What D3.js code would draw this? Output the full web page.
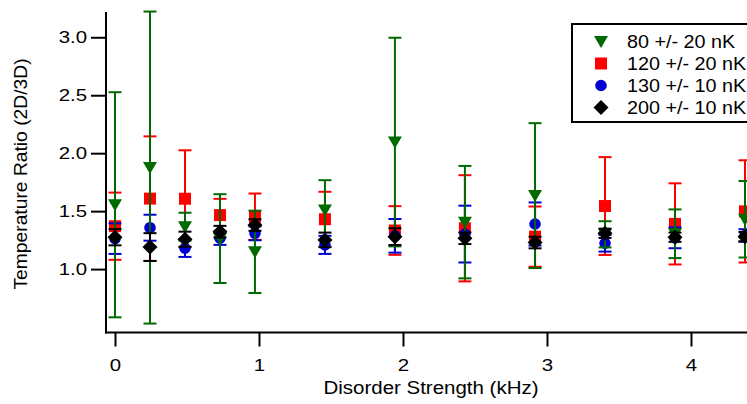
<!DOCTYPE html>
<html>
<head>
<meta charset="utf-8">
<script src="https://cdn.jsdelivr.net/npm/d3@7"></script>
<style>
  html, body { margin: 0; padding: 0; background: #fff; }
  svg { display: block; }
  text { font-family: "Liberation Sans", Arial, sans-serif; fill: #000; }
</style>
</head>
<body>
<svg id="chart" width="747" height="404"></svg>
<script>
// ---- data ----
const disorder = [0, 0.243, 0.486, 0.729, 0.972, 1.458, 1.944, 2.43, 2.917, 3.403, 3.889, 4.375];

const green80Val = [1.555, 1.876, 1.366, 1.263, 1.149, 1.51, 2.096, 1.405, 1.634, 1.30, 1.305, 1.43];
const green80Err = [0.971, 1.346, 0.12, 0.383, 0.355, 0.257, 0.9, 0.485, 0.625, 0.113, 0.21, 0.33];

const red120Val = [1.37, 1.608, 1.607, 1.466, 1.452, 1.43, 1.333, 1.352, 1.28, 1.544, 1.39, 1.498];
const red120Err = [0.29, 0.537, 0.418, 0.14, 0.2, 0.237, 0.21, 0.458, 0.26, 0.422, 0.35, 0.441];

const blue130Val = [1.263, 1.357, 1.18, 1.266, 1.309, 1.209, 1.287, 1.302, 1.389, 1.223, 1.27, 1.29];
const blue130Err = [0.132, 0.112, 0.075, 0.057, 0.06, 0.078, 0.145, 0.245, 0.186, 0.072, 0.09, 0.054];

const black200Val = [1.275, 1.19, 1.258, 1.323, 1.38, 1.252, 1.28, 1.266, 1.229, 1.309, 1.275, 1.28];
const black200Err = [0.07, 0.12, 0.065, 0.05, 0.05, 0.063, 0.072, 0.05, 0.05, 0.04, 0.04, 0.04];

const seriesLabels = ["80 +/- 20 nK", "120 +/- 20 nK", "130 +/- 10 nK", "200 +/- 10 nK"];
const xTicks = [0, 1, 2, 3, 4];
const yTicks = [1.0, 1.5, 2.0, 2.5, 3.0];
const xTitle = "Disorder Strength (kHz)";
const yTitle = "Temperature Ratio (2D/3D)";

(function () {
// ---- layout ----
const mLeft = 106, mRight = 747, mTop = 12, mBottom = 332.5;

const svg = d3.select("#chart");

const x = d3.scaleLinear().domain([-0.0625, 4.389]).range([mLeft, mRight]);
const y = d3.scaleLinear().domain([0.453, 3.218]).range([mBottom, mTop]);

const series = [
  { label: seriesLabels[0], vals: green80Val, errs: green80Err, color: "#006a00", shape: "tri" },
  { label: seriesLabels[1], vals: red120Val, errs: red120Err, color: "#ff0000", shape: "square" },
  { label: seriesLabels[2], vals: blue130Val, errs: blue130Err, color: "#0000d0", shape: "circle" },
  { label: seriesLabels[3], vals: black200Val, errs: black200Err, color: "#000000", shape: "diamond" }
];

// widen text horizontally (reference glyphs are wider than Arial)
function stretch(sel, f) {
  sel.each(function () {
    const L = this.getComputedTextLength();
    d3.select(this).attr("textLength", L * f).attr("lengthAdjust", "spacingAndGlyphs");
  });
}

function markerPath(shape) {
  switch (shape) {
    case "tri": return "M-7,-5.5L7,-5.5L0,6.5Z";
    case "square": return "M-6,-6H6V6H-6Z";
    case "circle": return d3.symbol().type(d3.symbolCircle).size(Math.PI * 5.8 * 5.8)();
    case "diamond": return "M0,-7.5L7.5,0L0,7.5L-7.5,0Z";
  }
}

// draw order: red, blue, green, black
const drawOrder = [1, 2, 0, 3];
const plot = svg.append("g");
drawOrder.forEach(i => {
  const s = series[i];
  const g = plot.append("g");
  const pts = disorder.map((d, k) => ({ x: d, v: s.vals[k], e: s.errs[k] }));
  const eb = g.selectAll("g.eb").data(pts).enter().append("g").attr("class", "eb")
    .attr("stroke", s.color).attr("stroke-width", 2).attr("fill", "none");
  eb.append("line")
    .attr("x1", d => x(d.x)).attr("x2", d => x(d.x))
    .attr("y1", d => y(d.v - d.e)).attr("y2", d => y(d.v + d.e));
  eb.append("line")
    .attr("x1", d => x(d.x) - 6.5).attr("x2", d => x(d.x) + 6.5)
    .attr("y1", d => y(d.v + d.e)).attr("y2", d => y(d.v + d.e));
  eb.append("line")
    .attr("x1", d => x(d.x) - 6.5).attr("x2", d => x(d.x) + 6.5)
    .attr("y1", d => y(d.v - d.e)).attr("y2", d => y(d.v - d.e));
  g.selectAll("path.m").data(pts).enter().append("path").attr("class", "m")
    .attr("d", markerPath(s.shape))
    .attr("transform", d => `translate(${x(d.x)},${y(d.v)})`)
    .attr("fill", s.color);
});

// ---- axes ----
const xAxis = d3.axisBottom(x).tickValues(xTicks).tickFormat(d3.format("d")).tickSize(14).tickPadding(12);
const gx = svg.append("g").attr("transform", `translate(0,${mBottom})`).call(xAxis);
gx.select(".domain").remove();
gx.append("line").attr("x1", mLeft - 1).attr("x2", mRight).attr("y1", 0).attr("y2", 0)
  .attr("stroke", "#000").attr("stroke-width", 2);
gx.selectAll(".tick line").attr("stroke", "#000").attr("stroke-width", 2);
gx.selectAll(".tick text").attr("font-size", 17).attr("font-family", "Liberation Sans, Arial, sans-serif").attr("fill", "#000");

const yAxis = d3.axisLeft(y).tickValues(yTicks).tickFormat(d3.format(".1f")).tickSize(15).tickPadding(4);
const gy = svg.append("g").attr("transform", `translate(${mLeft},0)`).call(yAxis);
gy.select(".domain").remove();
gy.append("line").attr("x1", 0).attr("x2", 0).attr("y1", mTop).attr("y2", mBottom + 1)
  .attr("stroke", "#000").attr("stroke-width", 2);
gy.selectAll(".tick line").attr("stroke", "#000").attr("stroke-width", 2);
gy.selectAll(".tick text").attr("font-size", 17).attr("font-family", "Liberation Sans, Arial, sans-serif").attr("fill", "#000");
stretch(gx.selectAll(".tick text"), 1.2);
stretch(gy.selectAll(".tick text"), 1.2);

const xt = svg.append("text").attr("x", 431).attr("y", 393.5)
  .attr("text-anchor", "middle").attr("font-size", 17.5).text(xTitle);
stretch(xt, 1.17);

const yt = svg.append("text").attr("transform", `translate(27,174) rotate(-90)`)
  .attr("text-anchor", "middle").attr("font-size", 17.5).text(yTitle);
stretch(yt, 1.1);

// ---- legend ----
const lg = svg.append("g");
lg.append("rect").attr("x", 572).attr("y", 24).attr("width", 200).attr("height", 98)
  .attr("fill", "#fff").attr("stroke", "#000").attr("stroke-width", 2);
const rowY = d3.scalePoint().domain(d3.range(series.length)).range([41.5, 107.5]);
series.forEach((s, i) => {
  lg.append("path").attr("d", markerPath(s.shape))
    .attr("transform", `translate(601,${rowY(i)})`).attr("fill", s.color);
  const t = lg.append("text").attr("x", 627).attr("y", rowY(i)).attr("dy", "0.35em")
    .attr("font-size", 19).text(s.label);
  stretch(t, 1.04);
});
})();
</script>
</body>
</html>
